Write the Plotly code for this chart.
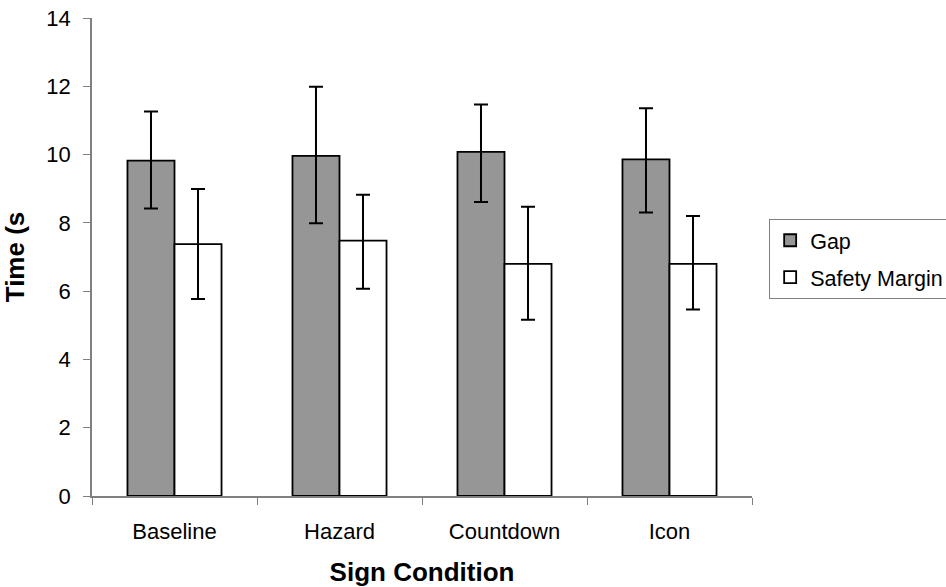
import plotly.graph_objects as go

# Data
conditions = ["Baseline", "Hazard", "Countdown", "Icon"]

gap_mean = [9.82, 9.96, 10.08, 9.86]
gap_upper = [11.26, 11.99, 11.47, 11.36]
gap_lower = [8.42, 7.99, 8.61, 8.30]

margin_mean = [7.38, 7.48, 6.80, 6.80]
margin_upper = [8.99, 8.82, 8.47, 8.20]
margin_lower = [5.77, 6.07, 5.16, 5.46]

y_ticks = [0, 2, 4, 6, 8, 10, 12, 14]

FONT = "Liberation Sans, Arial, sans-serif"


def err(mean, upper, lower):
    return dict(type="data", symmetric=False,
                array=[u - m for u, m in zip(upper, mean)],
                arrayminus=[m - l for m, l in zip(mean, lower)],
                color="black", thickness=2, width=7)


fig = go.Figure()
fig.add_trace(go.Bar(x=conditions, y=gap_mean, name="Gap",
                     marker=dict(color="#969696", line=dict(color="black", width=1.8)),
                     error_y=err(gap_mean, gap_upper, gap_lower),
                     legendgroup="a"))
fig.add_trace(go.Bar(x=conditions, y=margin_mean, name="Safety Margin",
                     marker=dict(color="white", line=dict(color="black", width=1.8)),
                     error_y=err(margin_mean, margin_upper, margin_lower),
                     legendgroup="b"))

# autoexpand off: the legend runs off the right edge like the original
fig.update_layout(
    width=946, height=587,
    margin=dict(l=92, r=194, t=18, b=91, autoexpand=False),
    paper_bgcolor="white", plot_bgcolor="white",
    font=dict(family=FONT, size=22, color="black"),
    barmode="group", bargap=0.43, bargroupgap=0,
    legend=dict(x=1.026, xanchor="left", y=0.58, yanchor="top",
                bordercolor="#808080", borderwidth=1,
                font=dict(size=21.5), traceorder="grouped", tracegroupgap=6,
                itemwidth=30),
    xaxis=dict(showline=True, linecolor="#808080", linewidth=1.5,
               ticks="outside", tickson="boundaries", ticklen=7, tickcolor="#808080",
               ticklabelstandoff=15, automargin=False,
               title=dict(text="<b>Sign Condition</b>", standoff=20),
               showgrid=False),
    yaxis=dict(range=[0, 14], tickvals=y_ticks, showline=True, linecolor="#808080",
               linewidth=1.5, ticks="outside", ticklen=7, tickcolor="#808080",
               ticklabelstandoff=8, ticklabeloverflow="allow", automargin=False,
               title=dict(text="<b>Time (s</b>", standoff=21),
               showgrid=False, zeroline=False),
)

# drop the browser's default body margin so the figure sits at the page corner
fig.write_html("out.html", config={"displayModeBar": False},
               post_script="document.body.style.margin = '0';")
